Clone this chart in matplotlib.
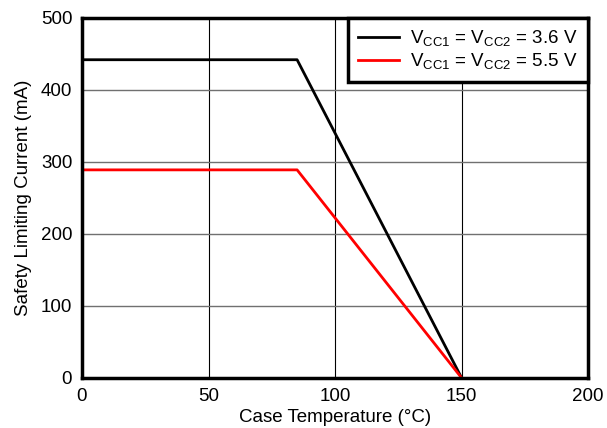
import matplotlib
matplotlib.use("Agg")
import matplotlib.pyplot as plt

plt.rcParams['font.family'] = ['Liberation Sans', 'DejaVu Sans']

# case temperature (°C) and safety limiting current (mA)
temp_36 = [0, 85, 150]
curr_36 = [442, 442, 0]
temp_55 = [0, 85, 150]
curr_55 = [289, 289, 0]

fig = plt.figure(figsize=(6.07, 4.28), dpi=100)
ax = fig.add_axes([0.135, 0.117, 0.834, 0.841])

ax.plot(temp_36, curr_36, color='black', lw=2, label=r'V$_{\mathregular{CC1}}$ = V$_{\mathregular{CC2}}$ = 3.6 V')
ax.plot(temp_55, curr_55, color='red', lw=2, label=r'V$_{\mathregular{CC1}}$ = V$_{\mathregular{CC2}}$ = 5.5 V')

ax.set_xlim(0, 200)
ax.set_ylim(0, 500)
ax.set_xticks([0, 50, 100, 150, 200])
ax.set_yticks([0, 100, 200, 300, 400, 500])
ax.xaxis.grid(True, color='black', lw=0.8)
ax.yaxis.grid(True, color='#707070', lw=1.0)
ax.set_axisbelow(True)
for s in ax.spines.values():
    s.set_linewidth(2.5)
ax.tick_params(length=0, labelsize=13.5, pad=7)

ax.set_xlabel('Case Temperature (°C)', fontsize=13.5, labelpad=3)
ax.set_ylabel('Safety Limiting Current (mA)', fontsize=13.5, labelpad=6)

leg = ax.legend(loc='upper right', fontsize=13.5, fancybox=False, framealpha=1,
                edgecolor='black', borderaxespad=0, handlelength=2.2,
                labelspacing=0.15, borderpad=0.55, handletextpad=0.6)
leg.get_frame().set_linewidth(2.5)

fig.savefig('out.png', dpi=100)
